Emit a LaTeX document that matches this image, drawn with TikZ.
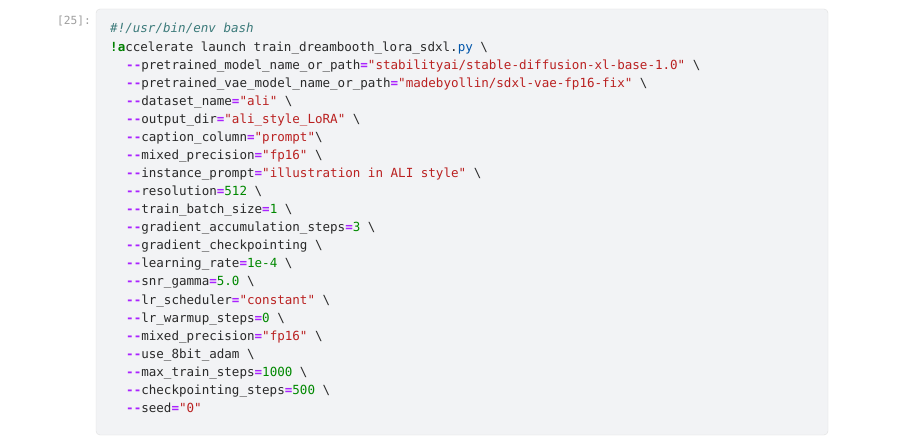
\documentclass[tikz,border=0pt]{standalone}
\usepackage{fontspec}
\setmonofont{DejaVu Sans Mono}
\usepackage{tikz}

\definecolor{cellbg}{HTML}{F2F3F5}
\definecolor{cellborder}{HTML}{E0E0E0}
\definecolor{promptcol}{HTML}{9E9E9E}
\definecolor{txtcol}{HTML}{292929}
\definecolor{cmtcol}{HTML}{3D7B7B}
\definecolor{kwdcol}{HTML}{008000}
\definecolor{opcol}{HTML}{AA22FF}
\definecolor{strcol}{HTML}{BA2121}
\definecolor{numcol}{HTML}{008800}
\definecolor{propcol}{HTML}{0055AA}

\newcommand{\kwd}[1]  {\textcolor{kwdcol}{\textbf{#1}}}
\newcommand{\opr}[1]  {\textcolor{opcol}{\textbf{#1}}}
\newcommand{\strg}[1] {\textcolor{strcol}{#1}}
\newcommand{\numb}[1] {\textcolor{numcol}{#1}}
\newcommand{\cprop}[1]{\textcolor{propcol}{#1}}
\newcommand{\bs}      {\textbackslash}

\tikzset{
  code/.style={anchor=base west, inner sep=0pt, text=txtcol,
    font=\ttfamily\fontsize{12.55}{15}\selectfont},
  prompt/.style={anchor=base east, inner sep=0pt, text=promptcol,
    font=\ttfamily\fontsize{11.2}{13}\selectfont}
}

\begin{document}
\begin{tikzpicture}[x=1pt,y=-1pt]
     \useasboundingbox (0,0) rectangle (900,441);
     \fill[white] (0,0) rectangle (900,441);
     \draw[cellborder, fill=cellbg, rounded corners=4pt] (96,9) rectangle (828,435);
     \node[prompt] (num) at (91,25) {[25]:};
     \node[code] (l1) at (110,33) {\textcolor{cmtcol}{\itshape\#!/usr/bin/env bash}};
     \node[code] (l2) at (110,51.07)
       {\kwd{!a}ccelerate launch train\_dreambooth\_lora\_sdxl.\cprop{py} \bs};
     \foreach \t [count=\i from 3] in {
       {\opr{--}pretrained\_model\_name\_or\_path\opr{=}\strg{"stabilityai/stable-diffusion-xl-base-1.0"} \bs},
       {\opr{--}pretrained\_vae\_model\_name\_or\_path\opr{=}\strg{"madebyollin/sdxl-vae-fp16-fix"} \bs},
       {\opr{--}dataset\_name\opr{=}\strg{"ali"} \bs},
       {\opr{--}output\_dir\opr{=}\strg{"ali\_style\_LoRA"} \bs},
       {\opr{--}caption\_column\opr{=}\strg{"prompt"}\bs},
       {\opr{--}mixed\_precision\opr{=}\strg{"fp16"} \bs},
       {\opr{--}instance\_prompt\opr{=}\strg{"illustration in ALI style"} \bs},
       {\opr{--}resolution\opr{=}\numb{512} \bs},
       {\opr{--}train\_batch\_size\opr{=}\numb{1} \bs},
       {\opr{--}gradient\_accumulation\_steps\opr{=}\numb{3} \bs},
       {\opr{--}gradient\_checkpointing \bs},
       {\opr{--}learning\_rate\opr{=}\numb{1e-4} \bs},
       {\opr{--}snr\_gamma\opr{=}\numb{5.0} \bs},
       {\opr{--}lr\_scheduler\opr{=}\strg{"constant"} \bs},
       {\opr{--}lr\_warmup\_steps\opr{=}\numb{0} \bs},
       {\opr{--}mixed\_precision\opr{=}\strg{"fp16"} \bs},
       {\opr{--}use\_8bit\_adam \bs},
       {\opr{--}max\_train\_steps\opr{=}\numb{1000} \bs},
       {\opr{--}checkpointing\_steps\opr{=}\numb{500} \bs},
       {\opr{--}seed\opr{=}\strg{"0"}}} {
      \node[code] (l\i) at (126,{33+18.07*(\i-1)}) {\t};
     }
    \end{tikzpicture}
\end{document}
